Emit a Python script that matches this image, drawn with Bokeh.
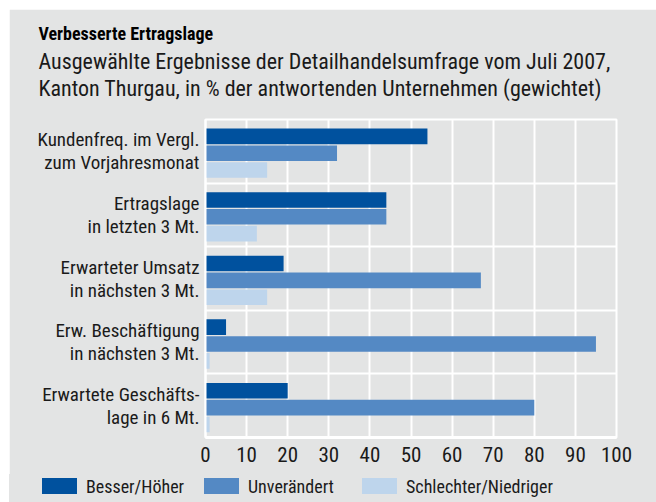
from bokeh.plotting import figure
from bokeh.layouts import column
from bokeh.models import FixedTicker, ColumnDataSource, Title, Div
from bokeh.embed import file_html
from bokeh.resources import INLINE

categories = ["Kundenfreq. im Vergl.\nzum Vorjahresmonat",
              "Ertragslage\nin letzten 3 Mt.",
              "Erwarteter Umsatz\nin nächsten 3 Mt.",
              "Erw. Beschäftigung\nin nächsten 3 Mt.",
              "Erwartete Geschäfts-\nlage in 6 Mt."]
series_names = ["Besser/Höher", "Unverändert", "Schlechter/Niedriger"]
besser = [54, 44, 19, 5, 20]
unveraendert = [32, 44, 67, 95, 80]
schlechter = [15, 12.5, 15, 1, 1]
x_ticks = [0, 10, 20, 30, 40, 50, 60, 70, 80, 90, 100]
title_text = "Verbesserte Ertragslage"
subtitle_text = ("Ausgewählte Ergebnisse der Detailhandelsumfrage vom Juli 2007,\n"
                 "Kanton Thurgau, in % der antwortenden Unternehmen (gewichtet)")

colors = ["#00519E", "#5489C4", "#BED5EC"]
BG = "#E3E4E4"
FONT = "'Roboto Condensed', 'DejaVu Sans Condensed', 'Liberation Sans Narrow', Roboto"
TXT = "#1a1a1a"

n = len(categories)
p = figure(width=647, height=465, output_backend="svg", toolbar_location=None,
           x_range=(0, 100), y_range=(0, n), title=None, margin=(9, 0, 0, 9),
           min_border_left=196, min_border_right=40, min_border_top=110, min_border_bottom=37)
p.background_fill_color = BG
p.border_fill_color = BG
p.outline_line_color = "white"
p.outline_line_width = 2

offsets = [0.265, 0.53, 0.795]
for k, vals in enumerate([besser, unveraendert, schlechter]):
    ys = [n - i - offsets[k] for i in range(n)]
    src = ColumnDataSource(dict(y=ys, right=vals))
    p.hbar(y="y", left=0, right="right", height=0.245, source=src,
           fill_color=colors[k], line_color=None)

# axes
p.xaxis.ticker = FixedTicker(ticks=x_ticks)
p.xaxis.major_tick_line_color = None
p.xaxis.minor_tick_line_color = None
p.xaxis.axis_line_color = "white"
p.xaxis.axis_line_width = 3
p.xaxis.major_label_text_font = FONT
p.xaxis.major_label_text_font_size = "21px"
p.xaxis.major_label_text_color = TXT
p.xaxis.major_label_standoff = 3

centers = [n - i - 0.5 for i in range(n)]
p.yaxis.ticker = FixedTicker(ticks=centers)
p.yaxis.major_label_overrides = {c: categories[i] for i, c in enumerate(centers)}
p.yaxis.major_tick_line_color = None
p.yaxis.minor_tick_line_color = None
p.yaxis.axis_line_color = "white"
p.yaxis.axis_line_width = 2
p.yaxis.major_label_text_font = FONT
p.yaxis.major_label_text_font_size = "19px"
p.yaxis.major_label_text_line_height = 1.0
p.yaxis.major_label_text_color = TXT
p.yaxis.major_label_standoff = 0
p.yaxis.major_label_text_align = "right"

p.xgrid.ticker = FixedTicker(ticks=x_ticks)
p.xgrid.grid_line_color = "white"
p.xgrid.grid_line_width = 2
p.ygrid.ticker = FixedTicker(ticks=list(range(n + 1)))
p.ygrid.grid_line_color = "white"
p.ygrid.grid_line_width = 2

# titles (later-added sits farther from the frame)
p.add_layout(Title(text=subtitle_text, align="left", offset=-167, standoff=38,
                   text_font=FONT, text_font_size="22px", text_font_style="normal",
                   text_line_height=1.05, text_color=TXT), "above")
p.add_layout(Title(text=title_text, align="left", offset=-167, standoff=-31,
                   text_font=FONT, text_font_size="18px", text_font_style="bold",
                   text_color="black"), "above")

# legend strip below the chart
legend_x = [33, 195, 353]
items_html = ""
for k in range(3):
    items_html += (
        f'<span style="position:absolute;left:{legend_x[k]}px;top:4px;width:35px;height:16px;'
        f'background:{colors[k]};"></span>'
        f'<span style="position:absolute;left:{legend_x[k] + 44}px;top:4px;line-height:18px;'
        f'white-space:nowrap;">{series_names[k]}</span>'
    )
legend_div = Div(
    text=(f'<div style="position:relative;width:647px;height:28px;background:{BG};'
          f'font-family:{FONT};font-size:18px;color:{TXT};">'
          + items_html + '</div>'),
    width=647, height=28, margin=(0, 0, 0, 9),
    styles={"background-color": BG})

layout = column(p, legend_div, spacing=0)
open("out.html", "w").write(file_html(layout, INLINE))
